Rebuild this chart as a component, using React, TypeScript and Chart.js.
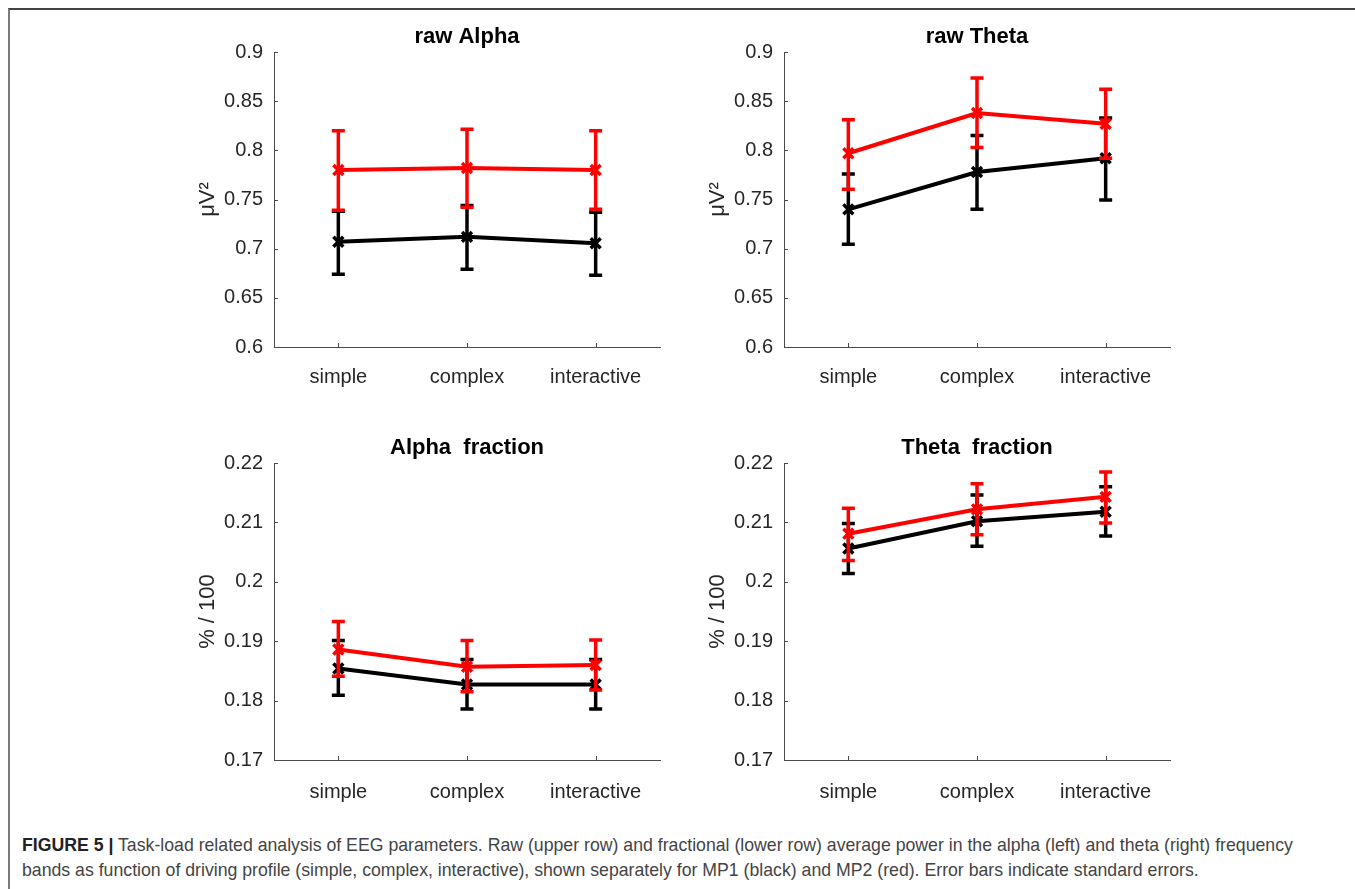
import React, { useEffect, useRef } from "react";
import { Chart, registerables } from "chart.js";

Chart.register(...registerables);

// ---------- data ----------
const categories = ["simple", "complex", "interactive"];

// raw Alpha (µV²)
const rawAlphaMP1 = [0.707, 0.712, 0.7055];
const rawAlphaMP1Upper = [0.738, 0.744, 0.737];
const rawAlphaMP1Lower = [0.674, 0.679, 0.673];
const rawAlphaMP2 = [0.78, 0.782, 0.78];
const rawAlphaMP2Upper = [0.82, 0.8215, 0.82];
const rawAlphaMP2Lower = [0.739, 0.742, 0.74];

// raw Theta (µV²)
const rawThetaMP1 = [0.74, 0.778, 0.792];
const rawThetaMP1Upper = [0.776, 0.815, 0.833];
const rawThetaMP1Lower = [0.7045, 0.74, 0.7495];
const rawThetaMP2 = [0.797, 0.838, 0.827];
const rawThetaMP2Upper = [0.831, 0.8735, 0.862];
const rawThetaMP2Lower = [0.7605, 0.803, 0.792];

// Alpha fraction (% / 100)
const alphaFracMP1 = [0.1854, 0.1827, 0.1827];
const alphaFracMP1Upper = [0.1901, 0.1869, 0.1869];
const alphaFracMP1Lower = [0.1809, 0.1786, 0.1786];
const alphaFracMP2 = [0.1886, 0.1857, 0.186];
const alphaFracMP2Upper = [0.1933, 0.1901, 0.1902];
const alphaFracMP2Lower = [0.1841, 0.1815, 0.1818];

// Theta fraction (% / 100)
const thetaFracMP1 = [0.2056, 0.2102, 0.2118];
const thetaFracMP1Upper = [0.2098, 0.2146, 0.216];
const thetaFracMP1Lower = [0.2014, 0.206, 0.2077];
const thetaFracMP2 = [0.2081, 0.2122, 0.2143];
const thetaFracMP2Upper = [0.2124, 0.2165, 0.2185];
const thetaFracMP2Lower = [0.2036, 0.2079, 0.2099];

// tick values & labels
const rawTicks = [0.6, 0.65, 0.7, 0.75, 0.8, 0.85, 0.9];
const rawTickLabels = ["0.6", "0.65", "0.7", "0.75", "0.8", "0.85", "0.9"];
const fracTicks = [0.17, 0.18, 0.19, 0.2, 0.21, 0.22];
const fracTickLabels = ["0.17", "0.18", "0.19", "0.2", "0.21", "0.22"];

// ---------- styling ----------
const FONT = "'Liberation Sans', Arial, Helvetica, sans-serif";
const AXIS_COLOR = "#4a4a4a";
const TEXT_COLOR = "#262626";
const MP1_COLOR = "#000000";
const MP2_COLOR = "#ff0000";

const errorBarPlugin = {
  id: "errorBars",
  afterDatasetDraw(chart: any, args: any) {
    const ds: any = chart.data.datasets[args.index];
    if (!ds.errHigh) return;
    const ctx = chart.ctx;
    const xs = chart.scales.x;
    const ys = chart.scales.y;
    ctx.save();
    ctx.strokeStyle = ds.borderColor;
    ctx.lineWidth = 3.5;
    ctx.lineCap = "butt";
    const cap = 6.5;
    for (let i = 0; i < ds.data.length; i++) {
      const px = xs.getPixelForValue(i);
      const yh = ys.getPixelForValue(ds.errHigh[i]);
      const yl = ys.getPixelForValue(ds.errLow[i]);
      ctx.beginPath();
      ctx.moveTo(px, yh);
      ctx.lineTo(px, yl);
      ctx.moveTo(px - cap, yh);
      ctx.lineTo(px + cap, yh);
      ctx.moveTo(px - cap, yl);
      ctx.lineTo(px + cap, yl);
      ctx.stroke();
    }
    ctx.restore();
  },
};

const tickMarkPlugin = {
  id: "tickMarks",
  afterDraw(chart: any) {
    const ctx = chart.ctx;
    const xs = chart.scales.x;
    const ys = chart.scales.y;
    const area = chart.chartArea;
    ctx.save();
    ctx.strokeStyle = AXIS_COLOR;
    ctx.lineWidth = 1;
    ctx.beginPath();
    ys.ticks.forEach((t: any) => {
      const py = Math.round(ys.getPixelForValue(t.value)) + 0.5;
      ctx.moveTo(area.left, py);
      ctx.lineTo(area.left + 4, py);
    });
    for (let i = 0; i < categories.length; i++) {
      const px = Math.round(xs.getPixelForValue(i)) + 0.5;
      ctx.moveTo(px, area.bottom);
      ctx.lineTo(px, area.bottom - 4);
    }
    ctx.stroke();
    ctx.restore();
  },
};

type PanelProps = {
  title: string;
  yTitle: string;
  ticks: number[];
  tickLabels: string[];
  mp1: number[];
  mp1Upper: number[];
  mp1Lower: number[];
  mp2: number[];
  mp2Upper: number[];
  mp2Lower: number[];
  left: number;
  top: number;
  width: number;
  height: number;
  chartLeft: number; // relative to canvas
  chartRight: number;
  chartTop: number;
  chartBottom: number;
  titleY: number;
  yTitleX: number;
  xLabelPad: number;
};

function Panel(p: PanelProps) {
  const ref = useRef<HTMLCanvasElement | null>(null);
  useEffect(() => {
    if (!ref.current) return;
    const titleFontSize = 22;
    const titleLH = titleFontSize * 1.2;
    const makeSeries = (label: string, color: string, data: number[], hi: number[], lo: number[]) =>
      ({
        label,
        data,
        borderColor: color,
        backgroundColor: color,
        borderWidth: 4,
        pointStyle: "crossRot",
        pointRadius: 7,
        pointBorderWidth: 3.5,
        pointBorderColor: color,
        tension: 0,
        fill: false,
        errHigh: hi,
        errLow: lo,
      } as any);
    const chart = new Chart(ref.current, {
      type: "line",
      data: {
        labels: categories,
        datasets: [
          makeSeries("MP2", MP2_COLOR, p.mp2, p.mp2Upper, p.mp2Lower),
          makeSeries("MP1", MP1_COLOR, p.mp1, p.mp1Upper, p.mp1Lower),
        ],
      },
      options: {
        responsive: false,
        animation: false,
        events: [],
        layout: {
          padding: {
            left: 0,
            right: p.width - p.chartRight,
            top: 0,
            bottom: 0,
          },
        },
        plugins: {
          legend: { display: false },
          tooltip: { enabled: false },
          title: {
            display: true,
            text: p.title,
            fullSize: false,
            color: "#000000",
            font: { family: FONT, size: titleFontSize, weight: "bold", lineHeight: 1.2 },
            padding: {
              top: p.titleY - titleLH / 2,
              bottom: p.chartTop - p.titleY - titleLH / 2,
            },
          },
        },
        scales: {
          x: {
            type: "category",
            offset: true,
            grid: { display: false, drawTicks: false, offset: false },
            border: { display: true, color: AXIS_COLOR, width: 1 },
            ticks: {
              color: TEXT_COLOR,
              font: { family: FONT, size: 20, lineHeight: 1.2 },
              padding: p.xLabelPad,
              maxRotation: 0,
              autoSkip: false,
            },
            afterFit: (s: any) => {
              s.height = p.height - p.chartBottom;
            },
          },
          y: {
            type: "linear",
            min: p.ticks[0],
            max: p.ticks[p.ticks.length - 1],
            grid: { display: false, drawTicks: false },
            border: { display: true, color: AXIS_COLOR, width: 1 },
            afterBuildTicks: (s: any) => {
              s.ticks = p.ticks.map((v) => ({ value: v }));
            },
            ticks: {
              color: TEXT_COLOR,
              font: { family: FONT, size: 20, lineHeight: 1.2 },
              padding: 11,
              callback: (value: any) => {
                const idx = p.ticks.findIndex((t) => Math.abs(t - Number(value)) < 1e-9);
                return idx >= 0 ? p.tickLabels[idx] : "";
              },
            },
            title: {
              display: true,
              text: p.yTitle,
              color: TEXT_COLOR,
              font: { family: FONT, size: 22, lineHeight: 1.2 },
              padding: { top: p.yTitleX - titleLH / 2, bottom: 0 },
            },
            afterFit: (s: any) => {
              s.width = p.chartLeft;
            },
          },
        },
      },
      plugins: [errorBarPlugin, tickMarkPlugin],
    } as any);
    return () => chart.destroy();
  }, []);
  return (
    <canvas
      ref={ref}
      width={p.width}
      height={p.height}
      style={{
        position: "absolute",
        left: p.left,
        top: p.top,
        width: p.width,
        height: p.height,
      }}
    />
  );
}

export default function App() {
  const common = {
    width: 500,
    height: 400,
    chartLeft: 94,
    chartRight: 480,
    titleY: 37,
    yTitleX: 28,
  };
  return (
    <div
      style={{
        position: "absolute",
        left: 0,
        top: 0,
        width: 1355,
        height: 889,
        background: "#ffffff",
        overflow: "hidden",
      }}
    >
      <div
        style={{
          position: "absolute",
          left: 8,
          top: 8,
          width: 1347,
          height: 881,
          boxSizing: "border-box",
          borderTop: "2px solid #444444",
          borderLeft: "2px solid #7a7a7a",
        }}
      />
      <Panel
        {...common}
        title="raw Alpha"
        yTitle="μV²"
        ticks={rawTicks}
        tickLabels={rawTickLabels}
        mp1={rawAlphaMP1}
        mp1Upper={rawAlphaMP1Upper}
        mp1Lower={rawAlphaMP1Lower}
        mp2={rawAlphaMP2}
        mp2Upper={rawAlphaMP2Upper}
        mp2Lower={rawAlphaMP2Lower}
        left={180}
        top={0}
        chartTop={52}
        chartBottom={347}
        xLabelPad={18}
      />
      <Panel
        {...common}
        title="raw Theta"
        yTitle="μV²"
        ticks={rawTicks}
        tickLabels={rawTickLabels}
        mp1={rawThetaMP1}
        mp1Upper={rawThetaMP1Upper}
        mp1Lower={rawThetaMP1Lower}
        mp2={rawThetaMP2}
        mp2Upper={rawThetaMP2Upper}
        mp2Lower={rawThetaMP2Lower}
        left={690}
        top={0}
        chartTop={52}
        chartBottom={347}
        xLabelPad={18}
      />
      <Panel
        {...common}
        title="Alpha  fraction"
        yTitle="% / 100"
        ticks={fracTicks}
        tickLabels={fracTickLabels}
        mp1={alphaFracMP1}
        mp1Upper={alphaFracMP1Upper}
        mp1Lower={alphaFracMP1Lower}
        mp2={alphaFracMP2}
        mp2Upper={alphaFracMP2Upper}
        mp2Lower={alphaFracMP2Lower}
        left={180}
        top={411}
        chartTop={52}
        chartBottom={349}
        xLabelPad={20}
      />
      <Panel
        {...common}
        title="Theta  fraction"
        yTitle="% / 100"
        ticks={fracTicks}
        tickLabels={fracTickLabels}
        mp1={thetaFracMP1}
        mp1Upper={thetaFracMP1Upper}
        mp1Lower={thetaFracMP1Lower}
        mp2={thetaFracMP2}
        mp2Upper={thetaFracMP2Upper}
        mp2Lower={thetaFracMP2Lower}
        left={690}
        top={411}
        chartTop={52}
        chartBottom={349}
        xLabelPad={20}
      />
      <div
        style={{
          position: "absolute",
          left: 22,
          top: 833,
          fontFamily: FONT,
          fontSize: 17.7,
          lineHeight: "25px",
          color: "#444444",
          whiteSpace: "nowrap",
        }}
      >
        <span style={{ fontWeight: "bold", color: "#222222" }}>FIGURE 5 |</span> Task-load related
        analysis of EEG parameters. Raw (upper row) and fractional (lower row) average power in the
        alpha (left) and theta (right) frequency
        <br />
        bands as function of driving profile (simple, complex, interactive), shown separately for MP1
        (black) and MP2 (red). Error bars indicate standard errors.
      </div>
    </div>
  );
}
